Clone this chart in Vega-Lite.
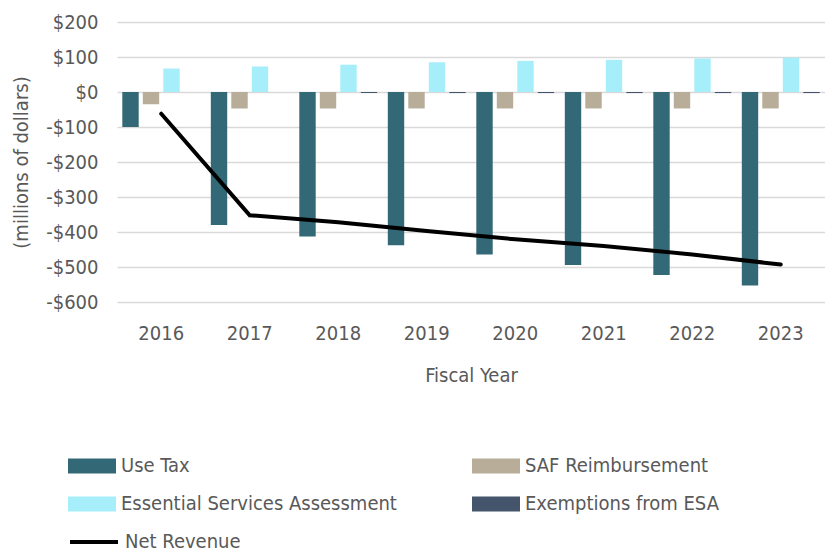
{
  "$schema": "https://vega.github.io/schema/vega-lite/v6.json",
  "width": 708,
  "height": 280,
  "autosize": "none",
  "padding": {"left": 117, "top": 22, "right": 0, "bottom": 250},
  "background": "white",
  "config": {
    "font": "DejaVu Sans Condensed, Liberation Sans Narrow, sans-serif",
    "view": {"stroke": null},
    "axis": {"labelColor": "#595959", "titleColor": "#595959", "titleFontWeight": "normal", "labelFontSize": 20, "titleFontSize": 20},
    "legend": {"labelColor": "#595959", "labelFontSize": 20, "padding": 0}
  },
  "datasets": {
    "bars": [
      {"year": "2016", "series": "Use Tax", "value": -100},
      {"year": "2017", "series": "Use Tax", "value": -380},
      {"year": "2018", "series": "Use Tax", "value": -413},
      {"year": "2019", "series": "Use Tax", "value": -438},
      {"year": "2020", "series": "Use Tax", "value": -464},
      {"year": "2021", "series": "Use Tax", "value": -494},
      {"year": "2022", "series": "Use Tax", "value": -523},
      {"year": "2023", "series": "Use Tax", "value": -553},
      {"year": "2016", "series": "SAF Reimbursement", "value": -35},
      {"year": "2017", "series": "SAF Reimbursement", "value": -47},
      {"year": "2018", "series": "SAF Reimbursement", "value": -47},
      {"year": "2019", "series": "SAF Reimbursement", "value": -47},
      {"year": "2020", "series": "SAF Reimbursement", "value": -47},
      {"year": "2021", "series": "SAF Reimbursement", "value": -47},
      {"year": "2022", "series": "SAF Reimbursement", "value": -47},
      {"year": "2023", "series": "SAF Reimbursement", "value": -47},
      {"year": "2016", "series": "Essential Services Assessment", "value": 67},
      {"year": "2017", "series": "Essential Services Assessment", "value": 73},
      {"year": "2018", "series": "Essential Services Assessment", "value": 78},
      {"year": "2019", "series": "Essential Services Assessment", "value": 85},
      {"year": "2020", "series": "Essential Services Assessment", "value": 89},
      {"year": "2021", "series": "Essential Services Assessment", "value": 92},
      {"year": "2022", "series": "Essential Services Assessment", "value": 96},
      {"year": "2023", "series": "Essential Services Assessment", "value": 98},
      {"year": "2016", "series": "Exemptions from ESA", "value": 0},
      {"year": "2017", "series": "Exemptions from ESA", "value": 0},
      {"year": "2018", "series": "Exemptions from ESA", "value": -3},
      {"year": "2019", "series": "Exemptions from ESA", "value": -3},
      {"year": "2020", "series": "Exemptions from ESA", "value": -3},
      {"year": "2021", "series": "Exemptions from ESA", "value": -3},
      {"year": "2022", "series": "Exemptions from ESA", "value": -3},
      {"year": "2023", "series": "Exemptions from ESA", "value": -3}
    ],
    "net": [
      {"year": "2016", "series": "Net Revenue", "value": -62},
      {"year": "2017", "series": "Net Revenue", "value": -352},
      {"year": "2018", "series": "Net Revenue", "value": -372},
      {"year": "2019", "series": "Net Revenue", "value": -397},
      {"year": "2020", "series": "Net Revenue", "value": -421},
      {"year": "2021", "series": "Net Revenue", "value": -440},
      {"year": "2022", "series": "Net Revenue", "value": -464},
      {"year": "2023", "series": "Net Revenue", "value": -493}
    ]
  },
  "encoding": {
    "x": {
      "field": "year", "type": "nominal",
      "scale": {"paddingInner": 0.12, "paddingOuter": 0.06},
      "axis": {"title": "Fiscal Year", "labelAngle": 0, "domain": false, "ticks": false, "labelPadding": 21, "titlePadding": 22}
    },
    "y": {
      "field": "value", "type": "quantitative",
      "scale": {"domain": [-600, 200], "nice": false, "zero": false},
      "axis": {
        "title": "(millions of dollars)",
        "values": [-600, -500, -400, -300, -200, -100, 0, 100, 200],
        "labelExpr": "datum.value < 0 ? '-$' + abs(datum.value) : '$' + datum.value",
        "domain": false, "ticks": false, "labelPadding": 19, "titlePadding": 14,
        "gridColor": "#d9d9d9", "gridWidth": 1.3
      }
    }
  },
  "layer": [
    {
      "data": {"name": "bars"},
      "mark": {"type": "bar"},
      "encoding": {
        "xOffset": {"field": "series", "type": "nominal",
          "sort": ["Use Tax", "SAF Reimbursement", "Essential Services Assessment", "Exemptions from ESA"],
          "scale": {"paddingInner": 0.2, "paddingOuter": 0}},
        "color": {
          "field": "series", "type": "nominal",
          "scale": {
            "domain": ["Use Tax", "SAF Reimbursement", "Essential Services Assessment", "Exemptions from ESA"],
            "range": ["#336877", "#b7ad98", "#a6eefa", "#44546a"]
          },
          "legend": {
            "title": null, "orient": "none", "legendX": -40, "legendY": 429,
            "values": ["Use Tax", "Essential Services Assessment", "SAF Reimbursement", "Exemptions from ESA"],
            "columns": 2, "columnPadding": 75, "rowPadding": 13,
            "symbolType": "M-1.6,-0.5H1.6V0.5H-1.6Z", "symbolSize": 900,
            "symbolStrokeWidth": 0, "labelOffset": 14, "labelLimit": 400
          }
        }
      }
    },
    {
      "data": {"name": "net"},
      "mark": {"type": "line", "strokeWidth": 4, "strokeCap": "round"},
      "encoding": {
        "stroke": {
          "field": "series", "type": "nominal",
          "scale": {"domain": ["Net Revenue"], "range": ["#000000"]},
          "legend": {
            "title": null, "orient": "none", "legendX": -40, "legendY": 503,
            "symbolType": "M-1.6,0H1.6", "symbolSize": 900, "symbolStrokeWidth": 4,
            "labelOffset": 14, "labelLimit": 400
          }
        }
      }
    }
  ]
}
